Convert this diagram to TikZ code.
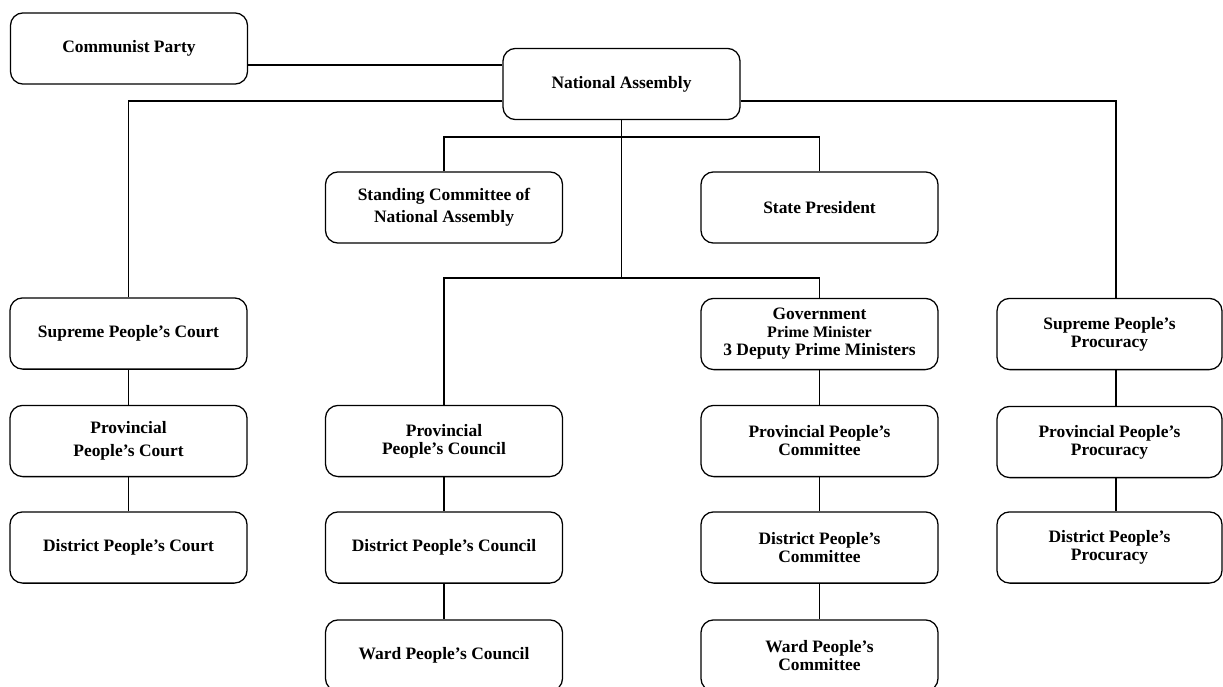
\documentclass[tikz,border=0pt]{standalone}
\usepackage{fontspec}
\setmainfont{Liberation Serif}
\tikzstyle{unit}=[draw,rounded corners=9pt,line width=0.9pt,minimum width=5.925cm,minimum height=1.78cm,align=center,inner sep=2pt,font=\bfseries\fontsize{12.4}{12.8}\selectfont]
\tikzstyle{wire}=[line width=0.9pt]

\begin{document}
\begin{tikzpicture}[x=0.025cm, y=-0.025cm]
\useasboundingbox (0, 0) rectangle (1223, 686);
\node[unit] at (129, 48.5) (party) {Communist Party};
\node[unit] at (621.5, 84) (na) {National Assembly};
\node[unit] at (444, 207.5) (stand) {Standing Committee of\\[3pt]National Assembly};
\node[unit] at (819.5, 207.5) (pres) {State President};
\node[unit] at (128.5, 333.5) (scourt) {Supreme People's Court};
\node[unit] at (819.5, 334) (gov) {Government\\{\fontsize{11.4}{12}\selectfont Prime Minister}\\3 Deputy Prime Ministers};
\node[unit, minimum width=5.625cm] at (1109.5, 334) (sproc) {Supreme People's\\Procuracy};
\node[unit] at (128.5, 441) (pcourt) {Provincial\\[3.5pt]People's Court};
\node[unit] at (444, 441) (pcouncil) {Provincial\\People's Council};
\node[unit] at (819.5, 441) (pcomm) {Provincial People's\\Committee};
\node[unit, minimum width=5.625cm] at (1109.5, 442) (pproc) {Provincial People's\\Procuracy};
\node[unit] at (128.5, 547.5) (dcourt) {District People's Court};
\node[unit] at (444, 547.5) (dcouncil) {District People's Council};
\node[unit] at (819.5, 547.5) (dcomm) {District People's\\Committee};
\node[unit, minimum width=5.625cm] at (1109.5, 547.5) (dproc) {District People's\\Procuracy};
\node[unit] at (444, 655.5) (wcouncil) {Ward People's Council};
\node[unit] at (819.5, 655.5) (wcomm) {Ward People's\\Committee};
\coordinate (cpline) at (0, 65);
\coordinate (side) at (0, 101);
\coordinate (bus1) at (0, 137);
\coordinate (bus2) at (0, 278);
\coordinate (pcol) at (1116, 0);
\draw[wire] (party.east |- cpline) -- (na.west |- cpline);
\draw[wire] (na.west |- side) -| (scourt.north);
\draw[wire] (na.east |- side) -| (pcol |- sproc.north);
\draw[wire] (na.south) -- (na.south |- bus2);
\draw[wire] (stand.north) |- (na.south |- bus1) -| (pres.north);
\draw[wire] (pcouncil.north) |- (na.south |- bus2) -| (gov.north);
\foreach \a/\b in {scourt/pcourt, pcourt/dcourt, pcouncil/dcouncil, dcouncil/wcouncil,
  gov/pcomm, pcomm/dcomm, dcomm/wcomm}
  \draw[wire] (\a) -- (\b);
\foreach \a/\b in {sproc/pproc, pproc/dproc}
  \draw[wire] (pcol |- \a.south) -- (pcol |- \b.north);
\end{tikzpicture}
\end{document}
